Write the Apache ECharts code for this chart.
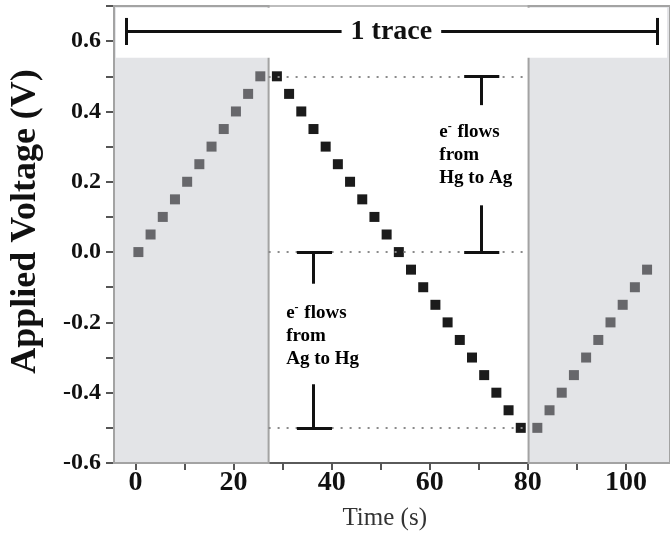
<!DOCTYPE html>
<html>
<head>
<meta charset="utf-8">
<script src="https://cdn.jsdelivr.net/npm/echarts@6/dist/echarts.min.js"></script>
<style>
  html, body { margin: 0; padding: 0; background: #fff; }
  #chart { width: 670px; height: 540px; }
</style>
</head>
<body>
<div id="chart"></div>
<script>
// voltage steps (time in s, voltage in V)
var rampUpTimes = [0, 2.5, 5, 7.5, 10, 12.5, 15, 17.5, 20, 22.5, 25];
var rampUpVolts = [0, 0.05, 0.1, 0.15, 0.2, 0.25, 0.3, 0.35, 0.4, 0.45, 0.5];
var rampDownTimes = [28.4, 30.9, 33.4, 35.9, 38.4, 40.9, 43.4, 45.9, 48.4, 50.9, 53.4,
  55.9, 58.4, 60.9, 63.4, 65.9, 68.4, 70.9, 73.4, 75.9, 78.4];
var rampDownVolts = [0.5, 0.45, 0.4, 0.35, 0.3, 0.25, 0.2, 0.15, 0.1, 0.05, 0,
  -0.05, -0.1, -0.15, -0.2, -0.25, -0.3, -0.35, -0.4, -0.45, -0.5];
var rampBackTimes = [81.8, 84.3, 86.8, 89.3, 91.8, 94.3, 96.8, 99.3, 101.8, 104.3];
var rampBackVolts = [-0.5, -0.45, -0.4, -0.35, -0.3, -0.25, -0.2, -0.15, -0.1, -0.05];
var xTicks = [0, 20, 40, 60, 80, 100];
var yTicks = [-0.6, -0.4, -0.2, 0.0, 0.2, 0.4, 0.6];
var traceStart = 26.7, traceEnd = 80;   // one trace between the shaded parts
var levelVolts = [0.5, 0, -0.5];       // dotted guide levels

var serif = "'Liberation Serif', 'Times New Roman', serif";

function zip(xs, ys) {
  return xs.map(function (x, i) { return [x, ys[i]]; });
}

var chart = echarts.init(document.getElementById('chart'));

var solid = { type: 'solid', color: '#111', width: 3 };
var dotted = { type: [2, 7], color: '#8a8a8a', width: 2 };

function seg(x1, y1, x2, y2, style, label) {
  var a = { coord: [x1, y1], lineStyle: style };
  if (label) a.label = label;
  return [a, { coord: [x2, y2] }];
}

var lines = [];
levelVolts.forEach(function (v) {
  lines.push(seg(traceStart, v, traceEnd, v, dotted));
});
// "1 trace" bar with end caps
lines.push(seg(-2.55, 0.628, 106.3, 0.628, solid, {
  show: true, position: 'insideMiddle', formatter: '1 trace', distance: 0,
  fontFamily: serif, fontWeight: 'bold', fontSize: 28, color: '#111',
  backgroundColor: '#fff', padding: [0, 9]
}));
lines.push(seg(-2.55, 0.589, -2.55, 0.666, solid));
lines.push(seg(106.3, 0.589, 106.3, 0.666, solid));
// right bracket (0.5 -> 0.0)
lines.push(seg(66.8, 0.5, 74.0, 0.5, solid));
lines.push(seg(70.4, 0.5, 70.4, 0.418, solid));
lines.push(seg(70.4, 0.133, 70.4, 0, solid));
lines.push(seg(66.8, 0, 74.0, 0, solid));
// left bracket (0.0 -> -0.5)
lines.push(seg(32.5, 0, 39.7, 0, solid));
lines.push(seg(35.9, 0, 35.9, -0.09, solid));
lines.push(seg(35.9, -0.376, 35.9, -0.5, solid));
lines.push(seg(32.5, -0.5, 39.7, -0.5, solid));

var shade = { color: '#e3e4e7', borderColor: '#a3a3a3', borderWidth: 2 };

var option = {
  animation: false,
  grid: [
    { left: 111, right: 0, top: 6, bottom: 77 },
    { left: 135.5, width: 490.4, top: 6, bottom: 77 }
  ],
  xAxis: [
    {
      gridIndex: 0, type: 'value', min: -5, max: 109,
      axisLine: { show: true, onZero: false, lineStyle: { color: '#5a5a5a', width: 2 } },
      axisTick: { show: false }, axisLabel: { show: false }, splitLine: { show: false }
    },
    {
      gridIndex: 1, type: 'value', min: 0, max: 100, interval: 10,
      axisLine: { show: false, onZero: false },
      axisTick: { show: true, length: 7, lineStyle: { color: '#555', width: 2 } },
      axisLabel: {
        margin: 6, color: '#111', fontFamily: serif, fontWeight: 'bold', fontSize: 28,
        formatter: function (v) { return xTicks.indexOf(v) >= 0 ? String(v) : ''; }
      },
      splitLine: { show: false },
      name: 'Time (s)', nameLocation: 'middle', nameGap: 43,
      nameTextStyle: { fontFamily: serif, fontSize: 25, color: '#333', padding: [0, 0, 0, 8] }
    },
    {
      gridIndex: 0, type: 'value', min: -5, max: 109, position: 'top',
      axisLine: { show: true, onZero: false, lineStyle: { color: '#bdbdbd', width: 2 } },
      axisTick: { show: false }, axisLabel: { show: false }, splitLine: { show: false }
    }
  ],
  yAxis: [
    {
      gridIndex: 0, type: 'value', min: -0.6, max: 0.7, interval: 0.1,
      axisLine: { show: true, onZero: false, lineStyle: { color: '#777', width: 2 } },
      axisTick: { show: true, length: 8, lineStyle: { color: '#555', width: 2 } },
      axisLabel: {
        margin: 13, color: '#111', fontFamily: serif, fontWeight: 'bold', fontSize: 24,
        formatter: function (v) {
          var r = Math.round(v * 10) / 10;
          var hit = yTicks.some(function (t) { return Math.abs(t - r) < 1e-9; });
          return hit ? r.toFixed(1) : '';
        }
      },
      splitLine: { show: false },
      name: 'Applied Voltage (V)', nameLocation: 'middle', nameGap: 70, nameRotate: 90,
      nameTextStyle: { fontFamily: serif, fontWeight: 'bold', fontSize: 36, color: '#111', padding: [0, 0, 0, 26] }
    },
    { gridIndex: 1, type: 'value', min: -0.6, max: 0.7, show: false }
  ],
  series: [
    {
      name: 'ramp up', type: 'scatter', symbol: 'rect', symbolSize: 10,
      itemStyle: { color: '#67676b', opacity: 1 }, silent: true,
      data: zip(rampUpTimes, rampUpVolts),
      markArea: {
        silent: true, z: 1,
        itemStyle: shade,
        data: [
          [{ xAxis: -5, yAxis: -0.6 }, { xAxis: traceStart, yAxis: 0.7 }],
          [{ xAxis: traceEnd, yAxis: -0.6 }, { xAxis: 112, yAxis: 0.7 }]
        ]
      }
    },
    {
      name: 'ramp down', type: 'scatter', symbol: 'rect', symbolSize: 10,
      itemStyle: { color: '#1b1b1b', opacity: 1 }, silent: true,
      data: zip(rampDownTimes, rampDownVolts),
      markLine: {
        silent: true, symbol: ['none', 'none'], label: { show: false },
        data: lines
      }
    },
    {
      name: 'ramp back', type: 'scatter', symbol: 'rect', symbolSize: 10,
      itemStyle: { color: '#67676b', opacity: 1 }, silent: true,
      data: zip(rampBackTimes, rampBackVolts),
      markArea: {
        silent: true, z: 2,
        itemStyle: { color: '#fff' },
        data: [[{ xAxis: -4.6, yAxis: 0.553 }, { xAxis: 108.4, yAxis: 0.695 }]]
      }
    },
    {
      name: 'notes', type: 'scatter', symbolSize: 0, silent: true,
      itemStyle: { opacity: 1 },
      label: {
        show: true, position: 'right', distance: 0, align: 'left', opacity: 1,
        fontFamily: serif, fontWeight: 'bold', fontSize: 19, lineHeight: 23, color: '#000',
        formatter: function (p) { return p.data.text; },
        rich: {
          s: { fontFamily: serif, fontWeight: 'bold', fontSize: 12, color: '#000',
            verticalAlign: 'top', lineHeight: 23, padding: [0, 1, 0, 0] }
        }
      },
      data: [
        { value: [30.3, -0.24], text: 'e{s|-} flows\nfrom\nAg to Hg' },
        { value: [61.7, 0.276], text: 'e{s|-} flows\nfrom\nHg to Ag' }
      ]
    }
  ]
};

chart.setOption(option);
</script>
</body>
</html>
